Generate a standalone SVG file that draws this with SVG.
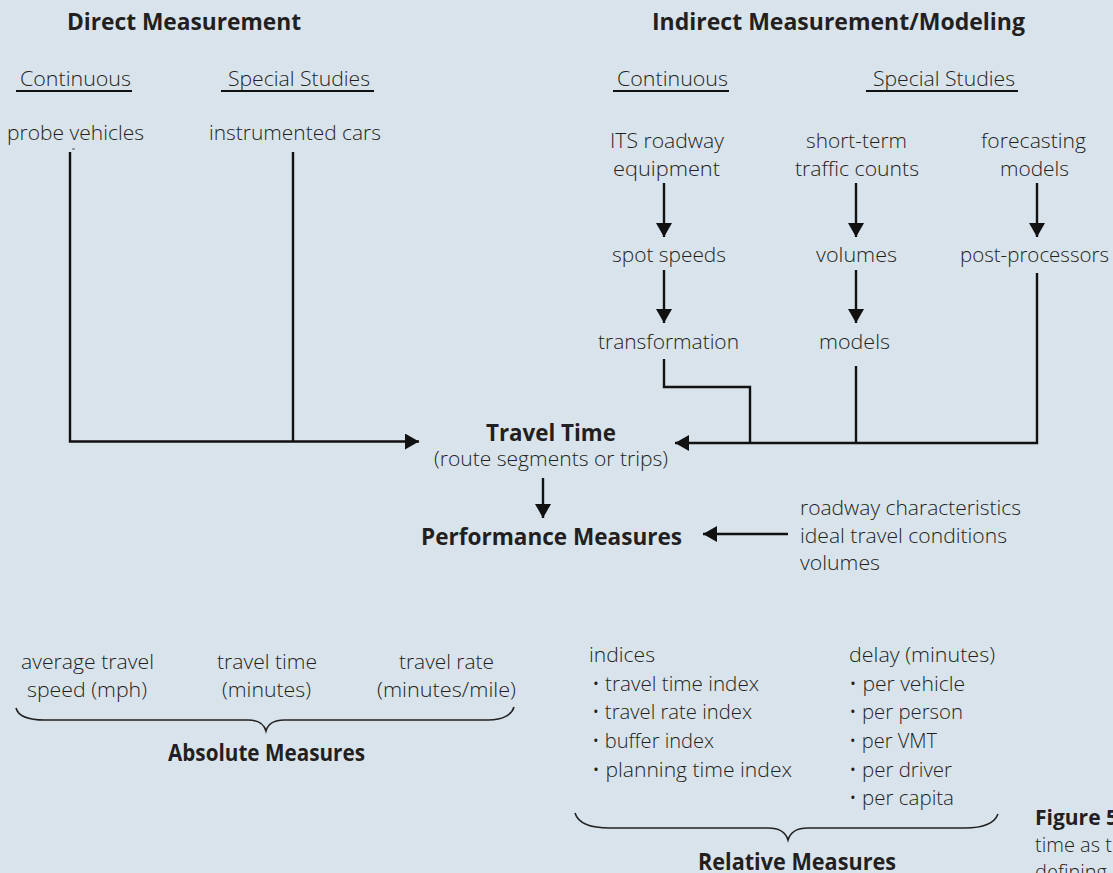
<svg xmlns="http://www.w3.org/2000/svg" width="1113" height="873" viewBox="0 0 1113 873">
<style>
text{font-family:"Open Sans","Noto Sans","Liberation Sans",sans-serif;fill:#231f20}
.r{font-size:20px;font-weight:300}
.b{font-size:23px;font-weight:700}
.ln{stroke:#111;stroke-width:2.4;fill:none}
.ul{stroke:#111;stroke-width:2;fill:none}
.br{stroke:#222;stroke-width:1.6;fill:none}
</style>
<defs>
<marker id="ah" viewBox="0 0 14 16" refX="14" refY="8" markerWidth="14" markerHeight="16" markerUnits="userSpaceOnUse" orient="auto">
<path d="M0,0 L14,8 L0,16 z" fill="#111"/>
</marker>
</defs>
<rect width="1113" height="873" fill="#d9e3ec"/>

<g id="headers">
<text class="b" x="67" y="30" textLength="234" lengthAdjust="spacingAndGlyphs">Direct Measurement</text>
<text class="b" x="652" y="30" textLength="373" lengthAdjust="spacingAndGlyphs">Indirect Measurement/Modeling</text>
<text class="r" x="20" y="86" textLength="111" lengthAdjust="spacingAndGlyphs">Continuous</text>
<line class="ul" x1="16" y1="91" x2="132" y2="91"/>
<text class="r" x="228" y="86" textLength="142" lengthAdjust="spacingAndGlyphs">Special Studies</text>
<line class="ul" x1="221" y1="91" x2="374" y2="91"/>
<text class="r" x="617" y="86" textLength="111" lengthAdjust="spacingAndGlyphs">Continuous</text>
<line class="ul" x1="613" y1="91" x2="729" y2="91"/>
<text class="r" x="873" y="86" textLength="142" lengthAdjust="spacingAndGlyphs">Special Studies</text>
<line class="ul" x1="866" y1="91" x2="1018" y2="91"/>
</g>

<g id="probe-vehicles">
<text class="r" x="7" y="140" textLength="137" lengthAdjust="spacingAndGlyphs">probe vehicles</text>
<line x1="72" y1="149" x2="75" y2="149" stroke="#555" stroke-width="1"/>
</g>
<g id="instrumented-cars">
<text class="r" x="209" y="140" textLength="172" lengthAdjust="spacingAndGlyphs">instrumented cars</text>
</g>
<g id="its-roadway">
<text class="r" x="610" y="148" textLength="114" lengthAdjust="spacingAndGlyphs">ITS roadway</text>
<text class="r" x="613" y="176" textLength="107" lengthAdjust="spacingAndGlyphs">equipment</text>
</g>
<g id="short-term">
<text class="r" x="806" y="148" textLength="101" lengthAdjust="spacingAndGlyphs">short-term</text>
<text class="r" x="795" y="176" textLength="124" lengthAdjust="spacingAndGlyphs">traffic counts</text>
</g>
<g id="forecasting">
<text class="r" x="981" y="148" textLength="105" lengthAdjust="spacingAndGlyphs">forecasting</text>
<text class="r" x="1000" y="176" textLength="69" lengthAdjust="spacingAndGlyphs">models</text>
</g>
<g id="spot-speeds">
<text class="r" x="612" y="262" textLength="114" lengthAdjust="spacingAndGlyphs">spot speeds</text>
</g>
<g id="volumes">
<text class="r" x="816" y="262" textLength="81" lengthAdjust="spacingAndGlyphs">volumes</text>
</g>
<g id="post-processors">
<text class="r" x="960" y="262" textLength="149" lengthAdjust="spacingAndGlyphs">post-processors</text>
</g>
<g id="transformation">
<text class="r" x="598" y="349" textLength="141" lengthAdjust="spacingAndGlyphs">transformation</text>
</g>
<g id="models">
<text class="r" x="819" y="349" textLength="71" lengthAdjust="spacingAndGlyphs">models</text>
</g>
<g id="travel-time">
<text class="b" x="486" y="441" textLength="130" lengthAdjust="spacingAndGlyphs">Travel Time</text>
<text class="r" x="434" y="466" textLength="234" lengthAdjust="spacingAndGlyphs">(route segments or trips)</text>
</g>
<g id="performance-measures">
<text class="b" x="421" y="545" textLength="261" lengthAdjust="spacingAndGlyphs">Performance Measures</text>
</g>
<g id="inputs">
<text class="r" x="800" y="515" textLength="221" lengthAdjust="spacingAndGlyphs">roadway characteristics</text>
<text class="r" x="800" y="543" textLength="207" lengthAdjust="spacingAndGlyphs">ideal travel conditions</text>
<text class="r" x="800" y="570" textLength="80" lengthAdjust="spacingAndGlyphs">volumes</text>
</g>

<g id="absolute-measures">
<text class="r" x="21" y="669" textLength="133" lengthAdjust="spacingAndGlyphs">average travel</text>
<text class="r" x="27" y="697" textLength="120" lengthAdjust="spacingAndGlyphs">speed (mph)</text>
<text class="r" x="217" y="669" textLength="100" lengthAdjust="spacingAndGlyphs">travel time</text>
<text class="r" x="222" y="697" textLength="89" lengthAdjust="spacingAndGlyphs">(minutes)</text>
<text class="r" x="399" y="669" textLength="95" lengthAdjust="spacingAndGlyphs">travel rate</text>
<text class="r" x="377" y="697" textLength="139" lengthAdjust="spacingAndGlyphs">(minutes/mile)</text>
<path class="br" d="M16,708 C18,716 28,720 45,720 L248,720 C258,720 264,724 266,731 C268,724 274,720 284,720 L488,720 C504,720 512,714 514,707"/>
<text class="b" x="168" y="761" textLength="197" lengthAdjust="spacingAndGlyphs">Absolute Measures</text>
</g>

<g id="relative-measures">
<text class="r" x="589" y="662" textLength="66" lengthAdjust="spacingAndGlyphs">indices</text>
<text class="r" x="592" y="691" textLength="167" lengthAdjust="spacingAndGlyphs">• travel time index</text>
<text class="r" x="592" y="719" textLength="160" lengthAdjust="spacingAndGlyphs">• travel rate index</text>
<text class="r" x="592" y="748" textLength="122" lengthAdjust="spacingAndGlyphs">• buffer index</text>
<text class="r" x="592" y="777" textLength="200" lengthAdjust="spacingAndGlyphs">• planning time index</text>
<text class="r" x="849" y="662" textLength="146" lengthAdjust="spacingAndGlyphs">delay (minutes)</text>
<text class="r" x="849" y="691" textLength="116" lengthAdjust="spacingAndGlyphs">• per vehicle</text>
<text class="r" x="849" y="719" textLength="114" lengthAdjust="spacingAndGlyphs">• per person</text>
<text class="r" x="849" y="748" textLength="88" lengthAdjust="spacingAndGlyphs">• per VMT</text>
<text class="r" x="849" y="777" textLength="103" lengthAdjust="spacingAndGlyphs">• per driver</text>
<text class="r" x="849" y="805" textLength="105" lengthAdjust="spacingAndGlyphs">• per capita</text>
<path class="br" d="M575,813 C578,823 590,828 610,828 L768,828 C780,828 786,833 788,840 C790,833 796,828 808,828 L965,828 C985,828 995,822 998,814"/>
<text class="b" x="698" y="870" textLength="198" lengthAdjust="spacingAndGlyphs">Relative Measures</text>
</g>

<g id="caption">
<text class="b" x="1035" y="825" style="font-size:21px">Figure 5</text>
<text class="r" x="1035" y="852">time as t</text>
<text class="r" x="1035" y="879">defining</text>
</g>

<g id="connectors">
<path class="ln" d="M70,152 V441.5 H419" marker-end="url(#ah)"/>
<path class="ln" d="M293,152 V441.5"/>
<path class="ln" d="M1037,273 V443 H675" marker-end="url(#ah)"/>
<path class="ln" d="M664,359 V387 H750 V443"/>
<path class="ln" d="M856,366 V443"/>
<path class="ln" d="M664,183 V237" marker-end="url(#ah)"/>
<path class="ln" d="M856,183 V237" marker-end="url(#ah)"/>
<path class="ln" d="M1037,183 V237" marker-end="url(#ah)"/>
<path class="ln" d="M664,270 V323" marker-end="url(#ah)"/>
<path class="ln" d="M856,270 V323" marker-end="url(#ah)"/>
<path class="ln" d="M543,478 V518" marker-end="url(#ah)"/>
<path class="ln" d="M788,534 H703" marker-end="url(#ah)"/>
</g>
</svg>
